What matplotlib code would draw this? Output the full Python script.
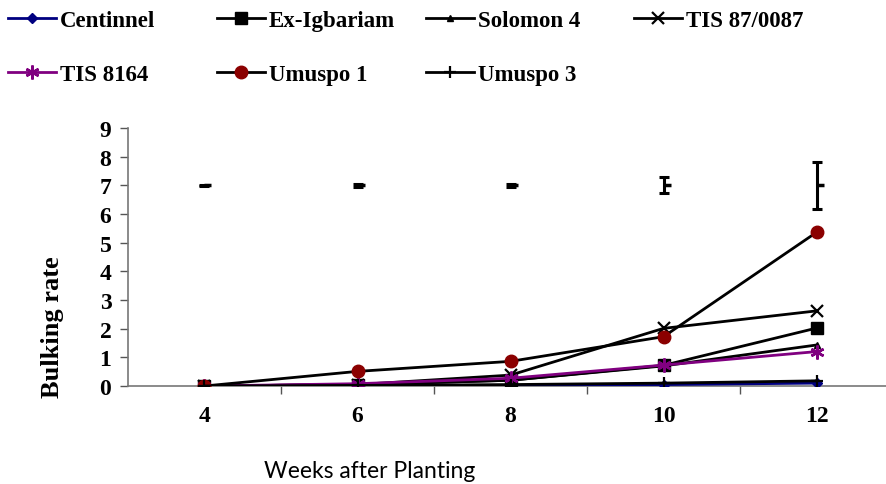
import matplotlib
matplotlib.use("Agg")
import matplotlib.pyplot as plt
import numpy as np

weeks = ["4", "6", "8", "10", "12"]
centinnel = [0.0, 0.01, 0.02, 0.05, 0.10]
ex_igbariam = [0.0, 0.05, 0.20, 0.72, 2.02]
solomon4 = [0.0, 0.05, 0.20, 0.70, 1.43]
tis870087 = [0.0, 0.05, 0.38, 2.01, 2.62]
tis8164 = [0.0, 0.08, 0.27, 0.73, 1.20]
umuspo1 = [0.0, 0.51, 0.86, 1.72, 5.36]
umuspo3 = [0.0, 0.02, 0.05, 0.10, 0.18]
err_mean = [7.0, 7.0, 7.0, 7.0, 7.0]
err_size = [0.02, 0.06, 0.06, 0.28, 0.81]

plt.rcParams['font.family'] = ['Liberation Serif', 'DejaVu Serif']

fig = plt.figure(figsize=(8.87, 4.85), dpi=100)
ax = fig.add_axes([128/887, 1-387/485, 765/887, (387-129)/485])

x = np.arange(len(weeks)) + 0.5
lw = 2.0
h_cent, = ax.plot(x, centinnel, color='#000080', lw=lw, marker='D', ms=5, label='Centinnel', zorder=3)
h_ex, = ax.plot(x, ex_igbariam, color='black', lw=lw, marker='s', ms=8, label='Ex-Igbariam', zorder=3)
h_sol, = ax.plot(x, solomon4, color='black', lw=lw, marker='^', ms=4, label='Solomon 4', zorder=3)
h_tis87, = ax.plot(x, tis870087, color='black', lw=lw, marker='x', ms=8, mew=1.6, label='TIS 87/0087', zorder=3)
h_tis81, = ax.plot(x, tis8164, color='#800080', lw=lw, marker=(6, 2, 0), ms=10, mec='#800080', mew=1.8, label='TIS 8164', zorder=4)
h_u1, = ax.plot(x, umuspo1, color='black', lw=lw, marker='o', ms=9, mfc='#8B0000', mec='#8B0000', label='Umuspo 1', zorder=4)
h_u3, = ax.plot(x, umuspo3, color='black', lw=lw, marker='+', ms=9, mew=1.6, label='Umuspo 3', zorder=5)

ax.errorbar(x, err_mean, yerr=err_size, fmt='none', ecolor='black', elinewidth=2.2, capsize=3.5, capthick=2.2, zorder=3)
ax.plot(x, err_mean, ls='none', marker=1, ms=5, mew=2.5, color='black', zorder=3)

ax.set_xlim(0, 5)
ax.set_ylim(0, 9)
ax.set_yticks(range(0, 10))
ax.set_xticks(x)
ax.set_xticklabels(weeks)
ax.set_xticks(np.arange(1, 5), minor=True)
ax.tick_params(axis='x', which='major', length=0, pad=14, labelsize=17)
ax.tick_params(axis='x', which='minor', length=6, width=1, color='#555555', direction='out')
ax.tick_params(axis='y', length=6, width=1, color='#555555', direction='out', labelsize=17, pad=6)
for lab in ax.get_xticklabels() + ax.get_yticklabels():
    lab.set_fontweight('bold')

for s in ['top', 'right']:
    ax.spines[s].set_visible(False)
ax.spines['left'].set_color('#777777')
ax.spines['bottom'].set_color('#777777')
ax.spines['left'].set_linewidth(1.2)
ax.spines['bottom'].set_linewidth(1.2)

ax.set_ylabel('Bulking rate', fontsize=19, fontweight='bold')
ax.yaxis.set_label_coords(-64/765, (387-327)/258)
fig.text(370/887, 1-472/485, 'Weeks after Planting', fontsize=16.5, family=['Lato', 'DejaVu Sans'],
         ha='center', va='center')

columns = [[h_cent, h_tis81], [h_ex, h_u1], [h_sol, h_u3], [h_tis87]]
col_x = [8, 217, 426, 634]
for hs, cx in zip(columns, col_x):
    fig.legend(hs, [h.get_label() for h in hs], loc='upper left',
               bbox_to_anchor=(cx/887, 1-11/485), frameon=False,
               prop={'weight': 'bold', 'size': 16.5}, handlelength=2.1,
               handletextpad=0.15, labelspacing=1.45, borderpad=0, borderaxespad=0)

fig.savefig('out.png', dpi=100)
